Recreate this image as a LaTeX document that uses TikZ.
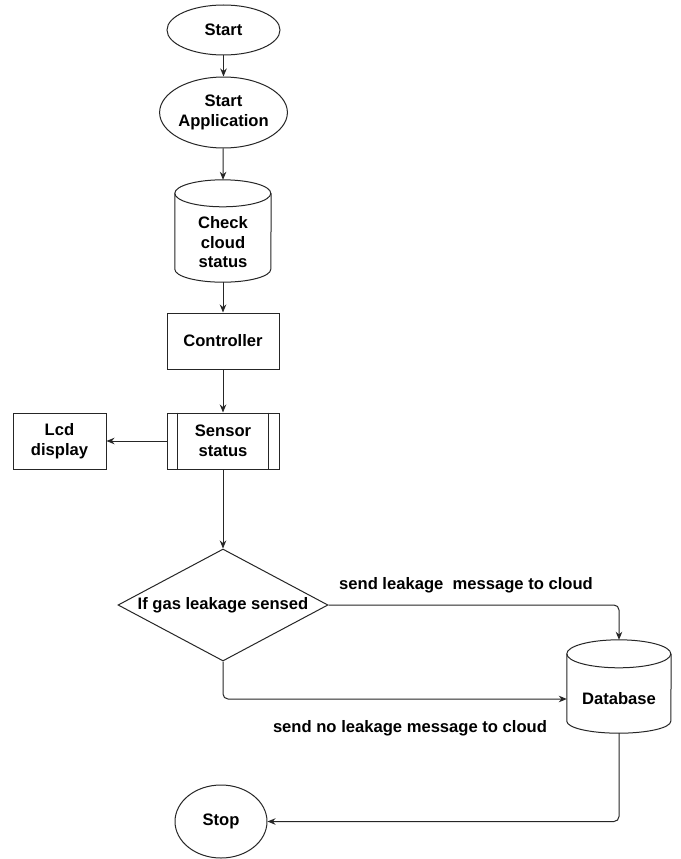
\documentclass[tikz,border=0pt]{standalone}
\usepackage{fontspec}
\setmainfont{Liberation Sans}
\usetikzlibrary{shapes.geometric,arrows.meta,calc}
\begin{document}
\begin{tikzpicture}[x=1pt,y=-1pt,
  every node/.style={font=\fontsize{16.6}{19.5}\selectfont\bfseries, align=center, inner sep=0pt, text=black},
  ln/.style={draw=black!85, line width=1pt},
  arr/.style={ln, -{Stealth[length=8pt,width=6.5pt]}},
  oval/.style={ln, ellipse},
  box/.style={ln, rectangle},
  cylbox/.style={rectangle, draw=none},
  dec/.style={ln, diamond, aspect=1.875}
]
\useasboundingbox (0,0) rectangle (680,859);
\fill[white] (0,0) rectangle (680,859);

% nodes
\node[oval, minimum width=113pt, minimum height=50pt] (start) at (223.5,30) {Start};
\node[oval, minimum width=113pt, minimum height=71pt] (app) at (223.5,112.5) {Start\\Application};
\node[cylbox, minimum width=96pt, minimum height=102pt] (cc) at (223,231) {};
\node (cct) at (223,242.5) {Check\\cloud\\status};
\node[box, minimum width=112pt, minimum height=56pt] (ctrl) at (223,341) {Controller};
\node[box, minimum width=112pt, minimum height=56pt] (ss) at (223,441) {Sensor\\status};
\node[box, minimum width=93pt, minimum height=56pt] (lcd) at (59.5,441) {Lcd\\display};
\node[dec, minimum width=210pt, minimum height=112pt] (dia) at (223,605) {If gas leakage sensed};
\node[cylbox, minimum width=104pt, minimum height=93pt] (db) at (619,686.5) {};
\node (dbt) at (619,699) {Database};
\node[oval, minimum width=92pt, minimum height=73pt] (stop) at (221,821.5) {Stop};
\node (l1) at (466,585) {send leakage\ \ message to cloud};
\node (l2) at (410,728) {send no leakage message to cloud};

% cylinders
\draw[ln] ([yshift=-13.5pt]cc.north west) arc[start angle=180, end angle=-180, x radius=48pt, y radius=13.5pt];
\draw[ln] ([yshift=-13.5pt]cc.north west) -- ([yshift=13pt]cc.south west)
  arc[start angle=180, end angle=360, x radius=48pt, y radius=13pt] -- ([yshift=-13.5pt]cc.north east);
\draw[ln] ([yshift=-14pt]db.north west) arc[start angle=180, end angle=-180, x radius=52pt, y radius=14pt];
\draw[ln] ([yshift=-14pt]db.north west) -- ([yshift=12pt]db.south west)
  arc[start angle=180, end angle=360, x radius=52pt, y radius=12pt] -- ([yshift=-14pt]db.north east);

% sensor status inner lines
\draw[ln] ([xshift=11pt]ss.north west) -- ([xshift=11pt]ss.south west);
\draw[ln] ([xshift=-11pt]ss.north east) -- ([xshift=-11pt]ss.south east);

% connectors
\draw[arr] (start) -- (app);
\draw[arr] (app) -- (cc.north);
\draw[arr] (cc.south) -- (ctrl);
\draw[arr] (ctrl) -- (ss);
\draw[arr] (ss) -- (lcd);
\draw[arr] (ss) -- (dia);
\draw[arr, rounded corners=5pt] (dia.east) -| (db.north);
\draw[arr, rounded corners=5pt] (dia.south) |- (dbt -| db.west);
\draw[arr, rounded corners=5pt] (db.south) |- (stop.east);
\end{tikzpicture}
\end{document}
